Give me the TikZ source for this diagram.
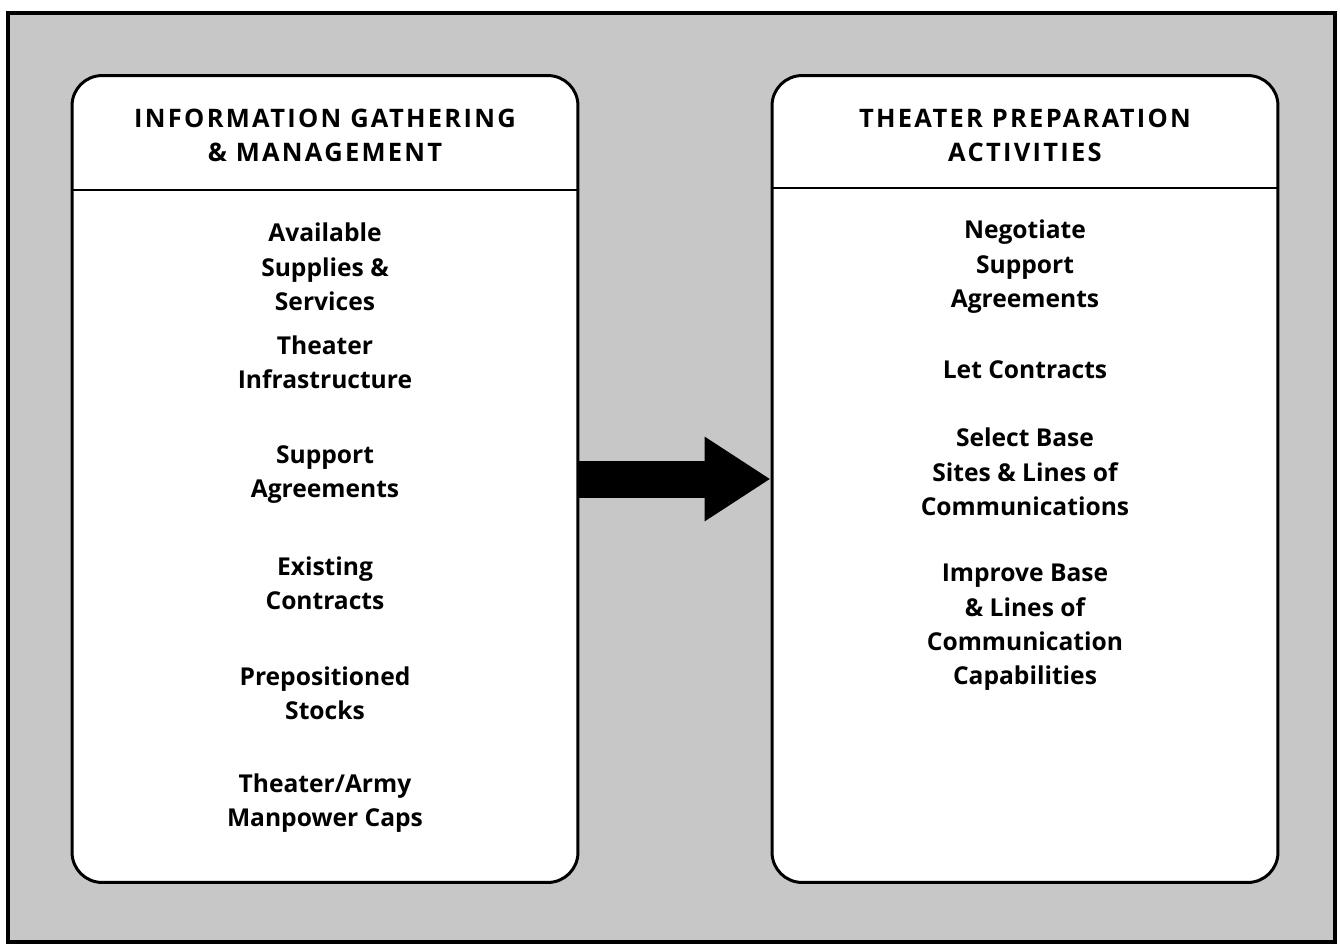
\documentclass[tikz,border=0pt]{standalone}
\usepackage{fontspec}
\setmainfont{Open Sans}
\newfontfamily\headfont{Open Sans}[LetterSpace=9]
\usetikzlibrary{arrows.meta}

\tikzset{
  panel/.style={draw, fill=white, line width=1.7pt, rounded corners=0.6cm,
    inner sep=0pt, minimum width=10.12cm, minimum height=16.14cm},
  divider/.style={line width=1.2pt},
  entry/.style={align=center, font=\fontsize{14}{19.6}\selectfont\bfseries},
  header/.style={align=center, font=\headfont\fontsize{14.5}{19.6}\selectfont\bfseries}
}

\begin{document}
\begin{tikzpicture}[x=0.02cm,y=-0.02cm]
        \useasboundingbox (0,0) rectangle (1340,947);
        \draw[line width=2.3pt, fill=black!22] (8,13) rectangle (1335,942);

        \node[panel] (info) at (325,479) {};
        \node[panel] (prep) at (1025,479) {};
        \draw[divider] (info.west |- 0,190) -- (info.east |- 0,190);
        \draw[divider] (prep.west |- 0,188) -- (prep.east |- 0,188);

        % big arrow between the panels
        \draw[line width=0.74cm, -{Triangle[length=1.32cm,width=1.6cm]}] (info.east) -- (prep.west);

        % left panel
        \node[header] (infohead) at (325,135.5) {INFORMATION GATHERING\\\& MANAGEMENT};
        \node[entry] (supplies) at (325,267) {Available\\Supplies \&\\Services};
        \node[entry] (infra) at (325,362.5) {Theater\\Infrastructure};
        \node[entry] (agree) at (325,474.5) {Support\\Agreements};
        \node[entry] (contracts) at (325,583) {Existing\\Contracts};
        \node[entry] (stocks) at (325,693) {Prepositioned\\Stocks};
        \node[entry] (caps) at (325,803) {Theater/Army\\Manpower Caps};

        % right panel
        \node[header] (prephead) at (1025,135.5) {THEATER PREPARATION\\ACTIVITIES};
        \node[entry] (negotiate) at (1025,267) {Negotiate\\Support\\Agreements};
        \node[entry] (let) at (1025,370) {Let Contracts};
        \node[entry] (select) at (1025,472) {Select Base\\Sites \& Lines of\\Communications};
        \node[entry] (improve) at (1025,627.5) {Improve Base\\\& Lines of\\Communication\\Capabilities};
\end{tikzpicture}
\end{document}
